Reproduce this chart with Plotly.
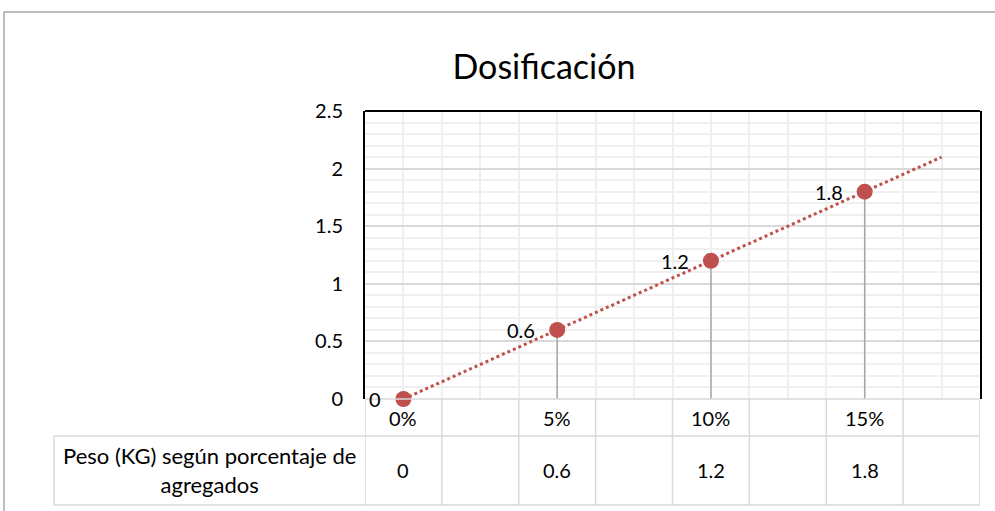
import numpy as np
import plotly.graph_objects as go

# ---- data ----
categories = ["0%", "", "5%", "", "10%", "", "15%", ""]
values = [0, None, 0.6, None, 1.2, None, 1.8, None]
row_label = "Peso (KG) según porcentaje de<br>agregados"
title_text = "Dosificación"
y_ticks = [0, 0.5, 1, 1.5, 2, 2.5]

FONT = "Lato"
RED = "#C0504D"
W, H = 995, 511
L, R, T, B = 365, 15, 111, 112
PW = W - L - R
PH = H - T - B


def px_x(px):
    return (px - L) / PW


def px_y(py):
    return (H - B - py) / PH


idx = list(range(len(categories)))
pts_x = [i for i, v in zip(idx, values) if v is not None]
pts_y = [v for v in values if v is not None]

# linear trendline through the data, drawn across the categories
coef = np.polyfit(pts_x, pts_y, 1)
trend_x = np.array([i for i in idx if i >= pts_x[0]])
trend_y = np.polyval(coef, trend_x)

fig = go.Figure()

# drop lines
dx, dy = [], []
for x, y in zip(pts_x, pts_y):
    dx += [x, x, None]
    dy += [0, y, None]
fig.add_trace(go.Scatter(x=dx, y=dy, mode="lines",
                         line=dict(color="#a6a6a6", width=1.5),
                         hoverinfo="skip", showlegend=False))

# trendline
fig.add_trace(go.Scatter(x=trend_x, y=trend_y, mode="lines",
                         line=dict(color=RED, width=3, dash="dot"),
                         hoverinfo="skip", showlegend=False))

# markers
fig.add_trace(go.Scatter(x=pts_x, y=pts_y, mode="markers",
                         marker=dict(color=RED, size=16),
                         showlegend=False, cliponaxis=False))

shapes = []
grid = "#d9d9d9"
# top border of plot area
shapes.append(dict(type="line", xref="paper", yref="paper", x0=0, x1=1, y0=1, y1=1,
                   line=dict(color="#000", width=2)))
# table horizontal lines
for py, x0 in [(399, px_x(365)), (436, px_x(54)), (505, px_x(54))]:
    shapes.append(dict(type="line", xref="paper", yref="paper", x0=x0, x1=1,
                       y0=px_y(py), y1=px_y(py), line=dict(color=grid, width=1.5)))
# table vertical lines at category boundaries
for i in range(len(categories) + 1):
    shapes.append(dict(type="line", xref="x", yref="paper", x0=i - 0.5, x1=i - 0.5,
                       y0=px_y(399), y1=px_y(505), line=dict(color=grid, width=1.5)))
# left edge of label column
shapes.append(dict(type="line", xref="paper", yref="paper", x0=px_x(54), x1=px_x(54),
                   y0=px_y(436), y1=px_y(505), line=dict(color=grid, width=1.5)))
# outer chart border
shapes.append(dict(type="line", xref="paper", yref="paper", x0=px_x(4), x1=px_x(1000),
                   y0=px_y(12), y1=px_y(12), line=dict(color="#7f7f7f", width=1)))
shapes.append(dict(type="line", xref="paper", yref="paper", x0=px_x(4), x1=px_x(4),
                   y0=px_y(12), y1=px_y(520), line=dict(color="#7f7f7f", width=1)))

annotations = []
# data labels, left of each marker
for x, y in zip(pts_x, pts_y):
    annotations.append(dict(x=x, y=y, xref="x", yref="y", text=f"{y:g}",
                            xanchor="right", yanchor="middle", xshift=-20,
                            showarrow=False, font=dict(family=FONT, size=20, color="#000")))
# data table
for i, c in enumerate(categories):
    if c:
        annotations.append(dict(x=i, y=px_y(418), xref="x", yref="paper", text=c,
                                xanchor="center", yanchor="middle",
                                showarrow=False, font=dict(family=FONT, size=20, color="#000")))
for i, v in enumerate(values):
    if v is not None:
        annotations.append(dict(x=i, y=px_y(470), xref="x", yref="paper", text=f"{v:g}",
                                xanchor="center", yanchor="middle",
                                showarrow=False, font=dict(family=FONT, size=20, color="#000")))
annotations.append(dict(x=px_x(209), y=px_y(470), xref="paper", yref="paper", text=row_label,
                        xanchor="center", yanchor="middle",
                        showarrow=False, align="center",
                        font=dict(family=FONT, size=22, color="#000")))

fig.update_layout(
    width=W, height=H,
    margin=dict(l=L, r=R, t=T, b=B),
    paper_bgcolor="white", plot_bgcolor="white",
    font=dict(family=FONT, size=20, color="#000"),
    title=dict(text=title_text, xref="paper", x=px_x(544), xanchor="center",
               yref="container", y=1 - 67 / H, yanchor="middle",
               font=dict(family=FONT, size=34, color="#000")),
    xaxis=dict(range=[-0.5, len(categories) - 0.5], showticklabels=False,
               tick0=-0.5, dtick=0.5, showgrid=True, gridcolor="#efefef", gridwidth=1.5,
               zeroline=False, showline=False, fixedrange=True),
    yaxis=dict(range=[0, 2.5], tickvals=y_ticks, ticktext=[f"{t:g}" for t in y_ticks],
               showgrid=True, gridcolor=grid, gridwidth=1.5,
               minor=dict(dtick=0.1, tick0=0, showgrid=True, gridcolor="#f0f0f0", gridwidth=1.5),
               showline=True, mirror=True, linecolor="#000", linewidth=2,
               zeroline=False, ticks="", ticklabelstandoff=16,
               tickfont=dict(family=FONT, size=20, color="#000"), fixedrange=True),
    shapes=shapes,
    annotations=annotations,
)

fig.write_html("out.html", config={"displayModeBar": False},
               post_script="document.body.style.margin='0';")
